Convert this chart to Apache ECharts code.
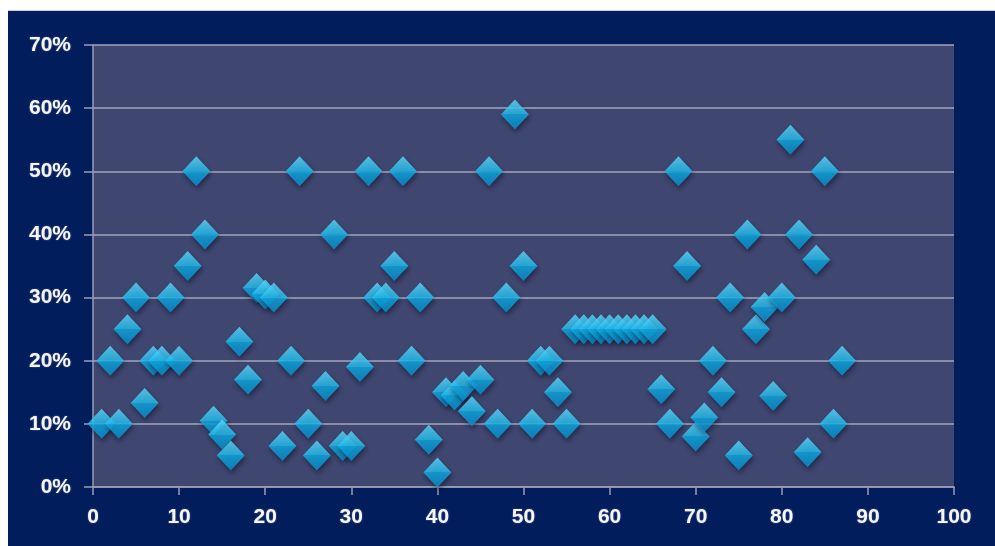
<!DOCTYPE html>
<html>
<head>
<meta charset="utf-8">
<script src="https://cdn.jsdelivr.net/npm/echarts@6/dist/echarts.min.js"></script>
<style>
  html, body { margin: 0; padding: 0; background: #ffffff; }
  #chart {
    position: absolute; left: 8px; top: 10px;
    width: 987px; height: 536px;
    background: #021d5c;
    border-top: 1px solid #c9cdd8;
    box-sizing: border-box;
  }
</style>
</head>
<body>
<div id="chart"></div>
<script>
// Observation index (x) and share (y, in percent)
const xValues = [
  1, 2, 3, 4, 5, 6, 7, 8, 9, 10,
  11, 12, 13, 14, 15, 16, 17, 18, 19, 20,
  21, 22, 23, 24, 25, 26, 27, 28, 29, 30,
  31, 32, 33, 34, 35, 36, 37, 38, 39, 40,
  41, 42, 43, 44, 45, 46, 47, 48, 49, 50,
  51, 52, 53, 54, 55, 56, 57, 58, 59, 60,
  61, 62, 63, 64, 65, 66, 67, 68, 69, 70,
  71, 72, 73, 74, 75, 76, 77, 78, 79, 80,
  81, 82, 83, 84, 85, 86, 87
];
const yPercent = [
  10, 20, 10, 25, 30, 13.3, 20, 20, 30, 20,
  35, 50, 40, 10.5, 8.3, 5, 23, 17, 31.5, 30.5,
  30, 6.5, 20, 50, 10, 5, 16, 40, 6.5, 6.5,
  19, 50, 30, 30, 35, 50, 20, 30, 7.5, 2.3,
  15, 14.5, 16, 12, 17, 50, 10, 30, 59, 35,
  10, 20, 20, 15, 10, 25, 25, 25, 25, 25,
  25, 25, 25, 25, 25, 15.5, 10, 50, 35, 8,
  11, 20, 15, 30, 5, 40, 25, 28.5, 14.4, 30,
  55, 40, 5.5, 36, 50, 10, 20
];
const xTicks = { min: 0, max: 100, step: 10 };
const yTicks = { min: 0, max: 70, step: 10 };

const points = xValues.map((x, i) => [x, yPercent[i] / 100]);

const labelStyle = {
  color: '#f6f6fa',
  fontFamily: 'Liberation Sans, Arial, sans-serif',
  fontWeight: 'bold',
  fontSize: 21,
  textShadowColor: 'rgba(255,255,255,0.35)',
  textShadowBlur: 2
};
const gray = '#9a9db2';

const chart = echarts.init(document.getElementById('chart'), null, { renderer: 'canvas' });
chart.setOption({
  backgroundColor: '#021d5c',
  animation: false,
  grid: {
    left: 85, right: 41, top: 34, bottom: 59,
    show: true, backgroundColor: '#3f466f', borderWidth: 0
  },
  xAxis: {
    type: 'value',
    min: xTicks.min, max: xTicks.max, interval: xTicks.step,
    axisLine: { show: true, onZero: false, lineStyle: { color: gray, width: 1.5 } },
    axisTick: { show: true, length: 8, lineStyle: { color: gray, width: 1.5 } },
    axisLabel: Object.assign({ margin: 20 }, labelStyle),
    splitLine: { show: false }
  },
  yAxis: {
    type: 'value',
    min: yTicks.min / 100, max: yTicks.max / 100, interval: yTicks.step / 100,
    axisLine: { show: true, lineStyle: { color: gray, width: 1.5 } },
    axisTick: { show: true, length: 9, lineStyle: { color: gray, width: 1.5 } },
    axisLabel: Object.assign({
      margin: 22,
      formatter: v => Math.round(v * 100) + '%'
    }, labelStyle),
    splitLine: { show: true, lineStyle: { color: '#a3a6ba', width: 1.5 } }
  },
  series: [{
    type: 'scatter',
    data: points,
    symbol: 'diamond',
    symbolSize: [28, 30],
    itemStyle: {
      color: {
        type: 'linear', x: 0, y: 0, x2: 0, y2: 1,
        colorStops: [
          { offset: 0, color: '#5fdcff' },
          { offset: 0.5, color: '#26c2f4' },
          { offset: 0.5, color: '#0fb0ea' },
          { offset: 1, color: '#0a90cf' }
        ]
      },
      shadowColor: 'rgba(0,0,20,0.55)',
      shadowBlur: 5,
      shadowOffsetX: 1,
      shadowOffsetY: 3
    }
  }]
});
</script>
</body>
</html>
